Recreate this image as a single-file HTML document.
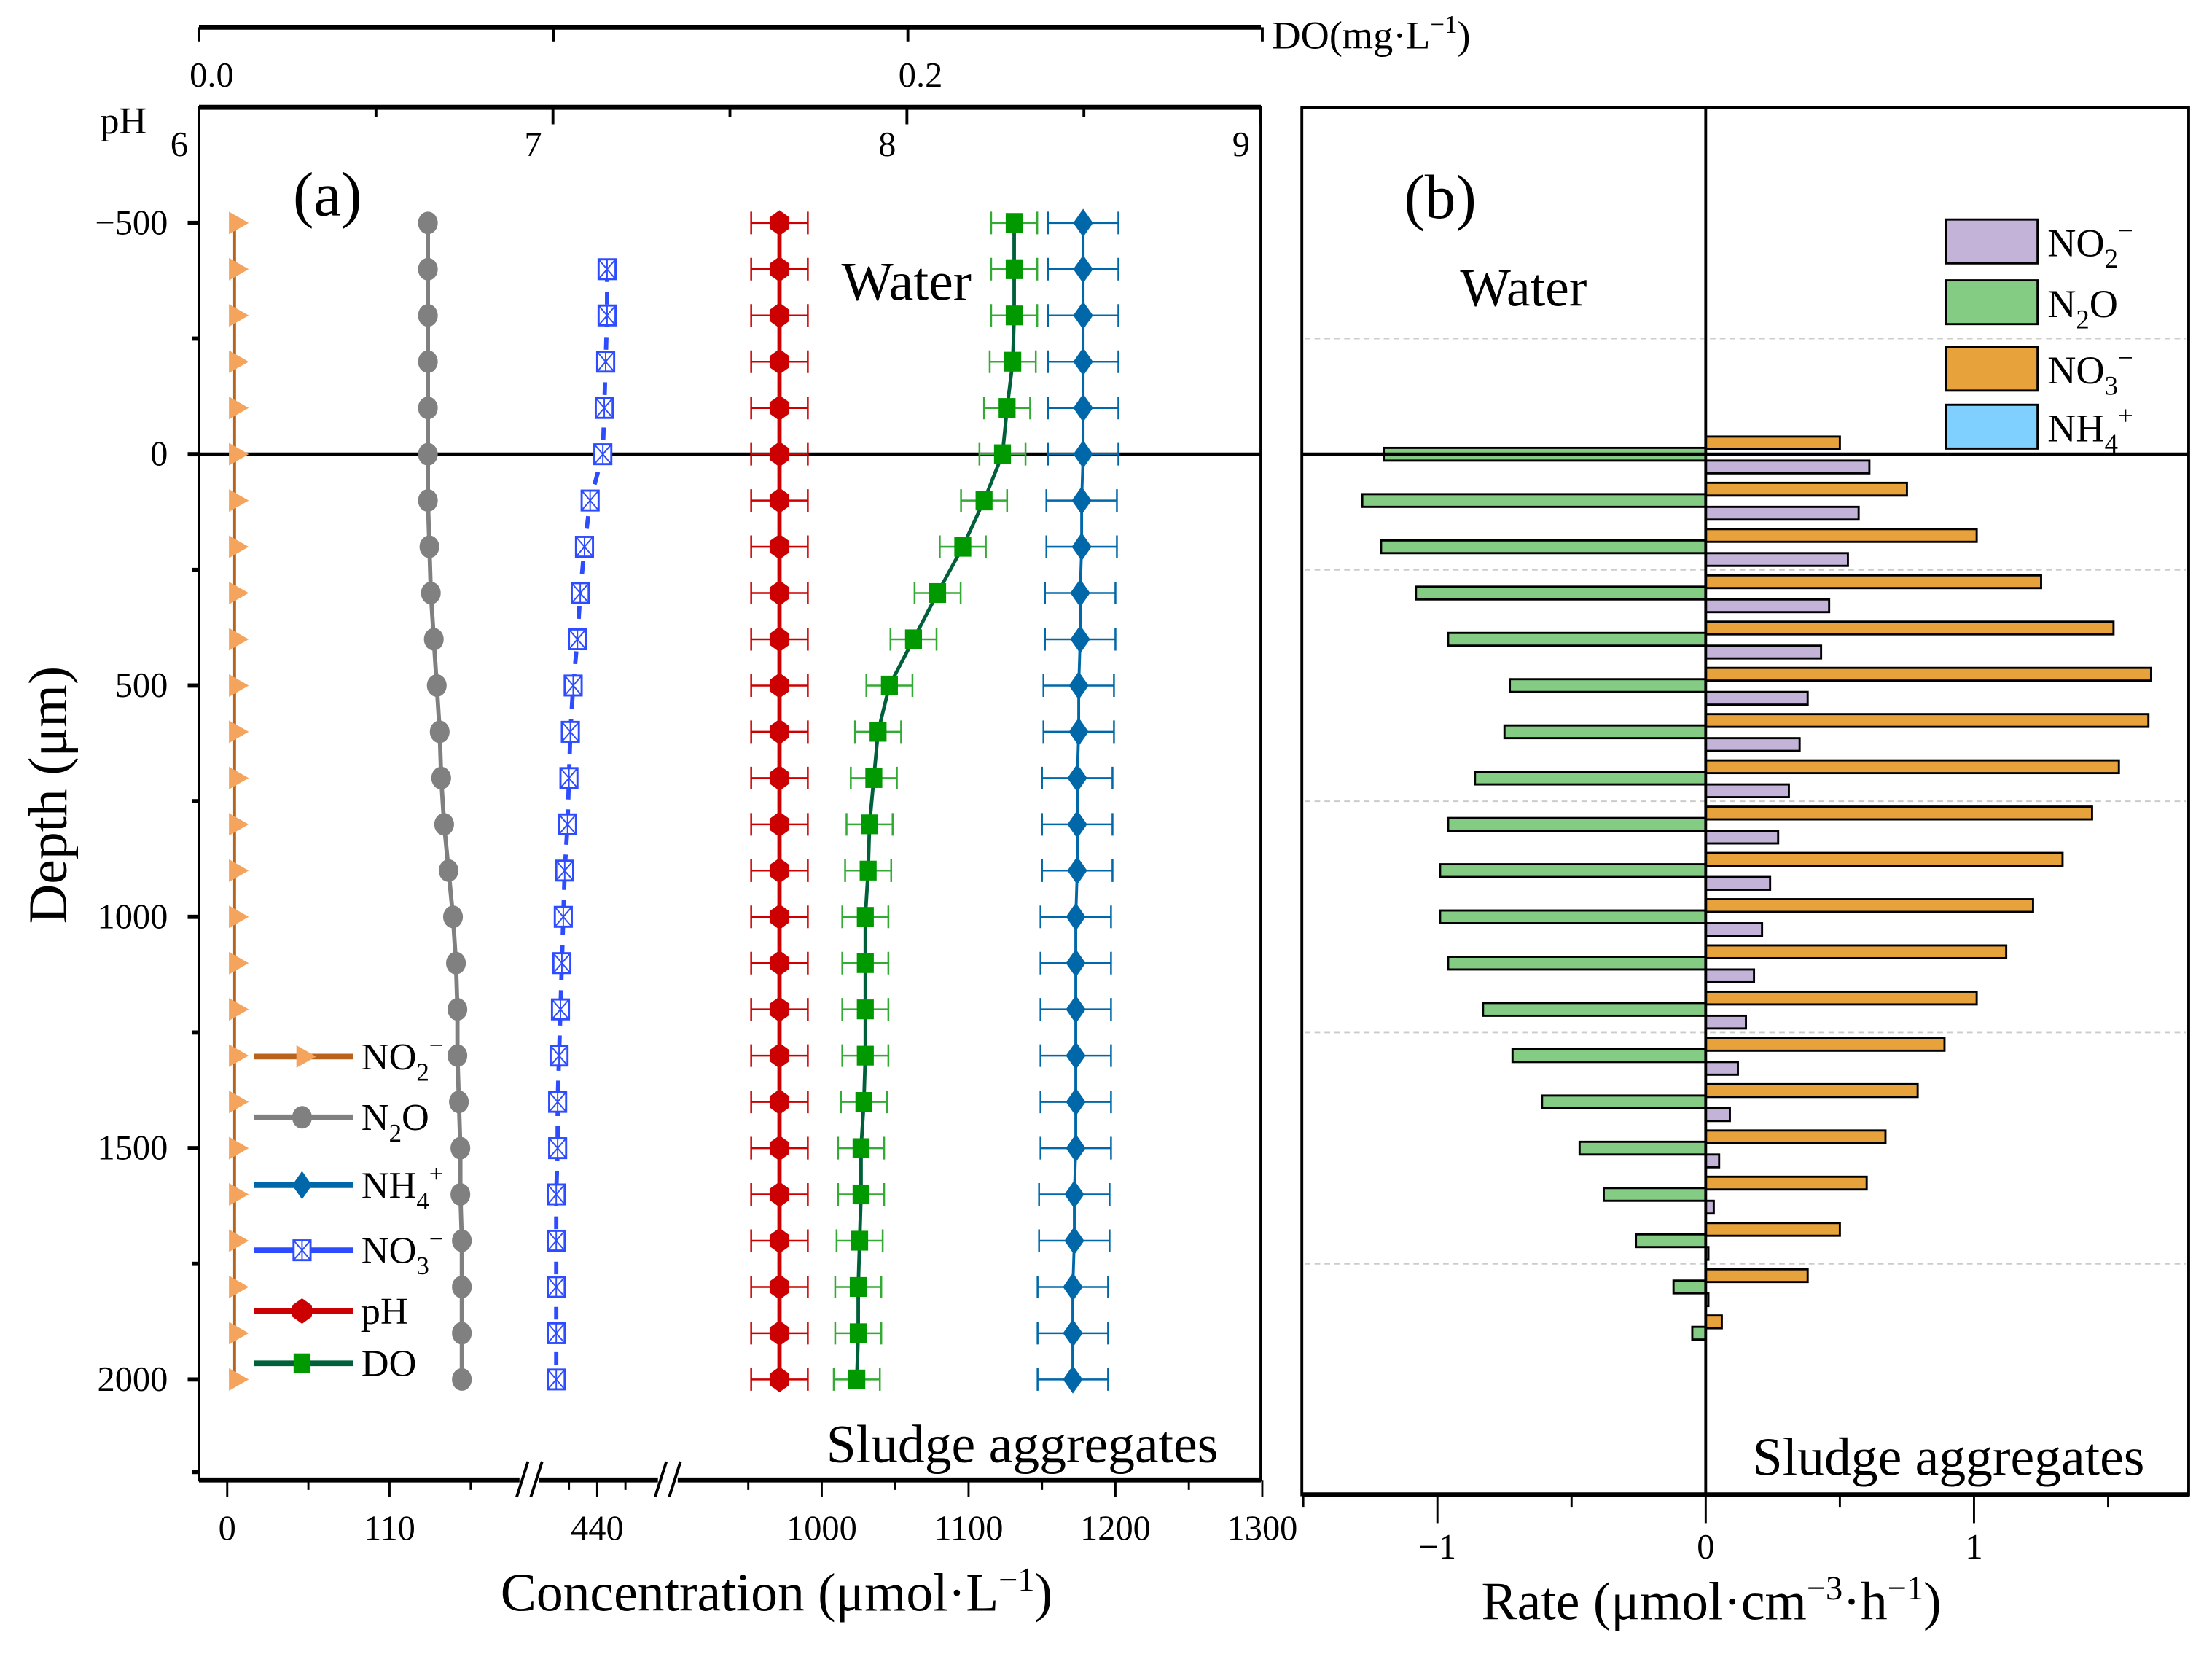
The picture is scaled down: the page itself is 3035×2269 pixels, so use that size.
<!DOCTYPE html>
<html><head><meta charset="utf-8"><style>
html,body{margin:0;padding:0;background:#fff}
svg{display:block}
text{font-family:"Liberation Serif",serif;fill:#000}
</style></head><body>
<svg id="chart" width="3035" height="2269" viewBox="0 0 3035 2269" xmlns="http://www.w3.org/2000/svg">
<g transform="scale(1.9455)"><g id="root" transform="matrix(0.9959,0,0,0.99694,-0.1,0.28)"></g></g>
</svg>
<script>
// ---------- Panel (a) data ----------
const depths = [-500,-400,-300,-200,-100,0,100,200,300,400,500,600,700,800,900,1000,1100,1200,1300,1400,1500,1600,1700,1800,1900,2000];
const no2Conc = [5,5,5,5,5,5,5,5,5,5,5,5,5,5,5,5,5,5,5,5,5,5,5,5,5,5];
const n2oConc = [136,136,136,136,136,136,136,137,138,140,142,144,145,147,150,153,155,156,156,157,158,158,159,159,159,159];
const no3Depths = [-400,-300,-200,-100,0,100,200,300,400,500,600,700,800,900,1000,1100,1200,1300,1400,1500,1600,1700,1800,1900,2000];
const no3Conc = [447,447,446,445,444,435,431,428,426,423,421,420,419,417,416,415,414,413,412,412,411,411,411,411,411];
const phVals = [7.64,7.64,7.64,7.64,7.64,7.64,7.64,7.64,7.64,7.64,7.64,7.64,7.64,7.64,7.64,7.64,7.64,7.64,7.64,7.64,7.64,7.64,7.64,7.64,7.64,7.64];
const doVals = [0.230,0.230,0.230,0.2296,0.228,0.2267,0.2215,0.2155,0.2084,0.2016,0.1948,0.1916,0.1904,0.1892,0.1888,0.1880,0.1880,0.1880,0.1880,0.1876,0.1868,0.1868,0.1864,0.1860,0.1860,0.1856];
const nh4Conc = [1178,1178,1178,1178,1178,1178,1177,1177,1176,1176,1175,1175,1174,1174,1174,1173,1173,1173,1173,1173,1173,1172,1172,1171,1171,1171];
const phErr = 0.08, doErr = 0.0065, nh4Err = 24;
const concTicks = [0,110,440,1000,1100,1200,1300];
const depthTicks = [-500,0,500,1000,1500,2000];
const phTicks = [6,7,8,9];
// ---------- Panel (b) data ----------
const rateDepths = [0,100,200,300,400,500,600,700,800,900,1000,1100,1200,1300,1400,1500,1600,1700,1800,1900];
const rateNO3 = [0.50,0.75,1.01,1.25,1.52,1.66,1.65,1.54,1.44,1.33,1.22,1.12,1.01,0.89,0.79,0.67,0.60,0.50,0.38,0.06];
const rateN2O = [-1.20,-1.28,-1.21,-1.08,-0.96,-0.73,-0.75,-0.86,-0.96,-0.99,-0.99,-0.96,-0.83,-0.72,-0.61,-0.47,-0.38,-0.26,-0.12,-0.05];
const rateNO2 = [0.61,0.57,0.53,0.46,0.43,0.38,0.35,0.31,0.27,0.24,0.21,0.18,0.15,0.12,0.09,0.05,0.03,0.01,0.01,0.0];
const rateNH4 = [0,0,0,0,0,0,0,0,0,0,0,0,0,0,0,0,0,0,0,0];
const rateTicks = [-1,0,1];

const NS="http://www.w3.org/2000/svg";
const root=document.getElementById('root');
function el(tag,attrs,parent){const e=document.createElementNS(NS,tag);for(const k in attrs)e.setAttribute(k,attrs[k]);(parent||root).appendChild(e);return e;}
function txt(x,y,s,size,parent,anchor){const t=el('text',{x:x,y:y,'font-size':size,'text-anchor':anchor||'middle'},parent);t.innerHTML=s;return t;}

const yD = d => 321 + d*0.3272;
function xC(v){ if(v<=250) return 161+v*1.045; if(v<700) return 423+(v-440); return 582+(v-1000)*1.04; }
const xPH = v => 141 + (v-6)*250.67;
const xDO = v => 141 + v*2510;
const xR = v => 1208 + v*190;
const TOP=75.6, BOTA=1046.5, BOTB=1057;

// ---------- Panel (a) frame ----------
const ga=el('g',{});


el('rect',{x:141,y:TOP,width:752,height:BOTA-TOP,fill:'none',stroke:'#000','stroke-width':2},ga);
el('line',{x1:141,y1:TOP,x2:893,y2:TOP,stroke:'#000','stroke-width':3.5},ga);
const gdo=el('g',{},ga);


el('line',{x1:141,y1:19,x2:893,y2:19,stroke:'#000','stroke-width':3.5},gdo);
[0,0.1,0.2,0.3].forEach(v=>el('line',{x1:xDO(v),y1:19,x2:xDO(v),y2:29,stroke:'#000','stroke-width':2},gdo));
txt(150,61,'0.0',25,gdo); txt(652,61,'0.2',25,gdo);
txt(901,34,'DO(mg·L<tspan dy="-11" font-size="18">−1</tspan><tspan dy="11">)</tspan>',28,gdo,'start');
const gph=el('g',{},ga);


phTicks.forEach(v=>{el('line',{x1:xPH(v),y1:TOP,x2:xPH(v),y2:TOP+12,stroke:'#000','stroke-width':2},gph);txt(xPH(v)-14,110,String(v),25,gph);});
[6.5,7.5,8.5].forEach(v=>el('line',{x1:xPH(v),y1:TOP,x2:xPH(v),y2:TOP+7,stroke:'#000','stroke-width':2},gph));
txt(71,94,'pH',27,gph,'start');
const gy=el('g',{},ga);


depthTicks.forEach(d=>{el('line',{x1:133,y1:yD(d),x2:141,y2:yD(d),stroke:'#000','stroke-width':3},gy);txt(119,yD(d)+8,(d<0?'−'+(-d):String(d)),25,gy,'end');});
[-250,250,750,1250,1750,2200].forEach(d=>el('line',{x1:136,y1:yD(d),x2:141,y2:yD(d),stroke:'#000','stroke-width':3},gy));
const yt=txt(0,0,'Depth (μm)',39,gy); yt.setAttribute('transform','translate(47,562) rotate(-90)');
const gx=el('g',{},ga);


el('line',{x1:141,y1:BOTA,x2:893,y2:BOTA,stroke:'#000','stroke-width':3.5},gx);
concTicks.forEach(v=>{el('line',{x1:xC(v),y1:BOTA,x2:xC(v),y2:BOTA+12,stroke:'#000','stroke-width':1.5},gx);txt(xC(v),1089,String(v),25,gx);});
[55,165,420,460,950,1050,1150,1250].forEach(v=>el('line',{x1:xC(v),y1:BOTA,x2:xC(v),y2:BOTA+7,stroke:'#000','stroke-width':1.5},gx));
[375,473].forEach(bx=>{el('rect',{x:bx-7,y:BOTA-5,width:14,height:10,fill:'#fff'},gx);
 el('line',{x1:bx-9,y1:BOTA+12,x2:bx-1,y2:BOTA-13,stroke:'#000','stroke-width':2},gx);
 el('line',{x1:bx+1,y1:BOTA+12,x2:bx+9,y2:BOTA-13,stroke:'#000','stroke-width':2},gx);});
txt(550,1139,'Concentration (μmol·L<tspan dy="-14" font-size="24">−1</tspan><tspan dy="14">)</tspan>',38,gx);
el('line',{x1:141,y1:321,x2:893,y2:321,stroke:'#000','stroke-width':2.5},ga);

function mk(type,x,y,g){
 if(type==='tri') return el('polygon',{points:`${x-4},${y-8} ${x+10},${y} ${x-4},${y+8}`,fill:'#f5a45d'},g);
 if(type==='circ') return el('ellipse',{cx:x,cy:y,rx:7,ry:8,fill:'#808080'},g);
 if(type==='dia') return el('polygon',{points:`${x},${y-10} ${x+7},${y} ${x},${y+10} ${x-7},${y}`,fill:'#0068a8'},g);
 if(type==='box'){const gg=el('g',{},g);el('rect',{x:x-6,y:y-7,width:12,height:14,fill:'#fff',stroke:'#2e4cff','stroke-width':1.5},gg);
   el('path',{d:`M${x-6},${y-7}L${x+6},${y+7}M${x+6},${y-7}L${x-6},${y+7}M${x},${y-7}L${x},${y+7}`,stroke:'#2e4cff','stroke-width':1},gg);return gg;}
 if(type==='hex') return el('polygon',{points:`${x},${y-9} ${x+7},${y-4} ${x+7},${y+4} ${x},${y+9} ${x-7},${y+4} ${x-7},${y-4}`,fill:'#cc0000'},g);
 if(type==='sq') return el('rect',{x:x-6,y:y-7,width:12,height:14,fill:'#009900'},g);
}
function errbar(x1,x2,y,col,g){el('path',{d:`M${x1},${y}H${x2}M${x1},${y-8}V${y+8}M${x2},${y-8}V${y+8}`,stroke:col,'stroke-width':1.3,fill:'none'},g);}
function series(name,xs,ds,lineCol,lw,dash,type,errs,errCol){
 const g=el('g',{},ga);
 
 
 const pts=xs.map((x,i)=>x+','+yD(ds[i])).join(' ');
 const pl=el('polyline',{points:pts,fill:'none',stroke:lineCol,'stroke-width':lw},g);
 if(dash) pl.setAttribute('stroke-dasharray',dash);
 xs.forEach((x,i)=>{ if(errs) errbar(errs[i][0],errs[i][1],yD(ds[i]),errCol,g);
   const m=mk(type,x,yD(ds[i]),g);
   
   });
}
series('no2-series',no2Conc.map(xC),depths,'#b8621b',2,null,'tri');
series('n2o-series',n2oConc.map(xC),depths,'#808080',3,null,'circ');
series('no3-series',no3Conc.map(xC),no3Depths,'#2e4cff',3,'9,7','box');
series('ph-series',phVals.map(xPH),depths,'#cc0000',3,null,'hex',phVals.map(v=>[xPH(v-phErr),xPH(v+phErr)]),'#cc0000');
series('do-series',doVals.map(xDO),depths,'#00603a',2.5,null,'sq',doVals.map(v=>[xDO(v-doErr),xDO(v+doErr)]),'#33aa33');
series('nh4-series',nh4Conc.map(xC),depths,'#0068a8',2,null,'dia',nh4Conc.map(v=>[xC(v-nh4Err),xC(v+nh4Err)]),'#0068a8');

const la=el('g',{},ga);


const legA=[['tri','#b8621b','NO<tspan dy="8" font-size="18">2</tspan><tspan dy="-19" font-size="18">−</tspan>',747],
 ['circ','#808080','N<tspan dy="8" font-size="18">2</tspan><tspan dy="-8">O</tspan>',790],
 ['dia','#0068a8','NH<tspan dy="8" font-size="18">4</tspan><tspan dy="-19" font-size="18">+</tspan>',838],
 ['box','#2e4cff','NO<tspan dy="8" font-size="18">3</tspan><tspan dy="-19" font-size="18">−</tspan>',884],
 ['hex','#cc0000','pH',927],['sq','#00603a','DO',964]];
legA.forEach(([t,c,l,y])=>{const g=el('g',{},la);
 
 
 el('line',{x1:180,y1:y,x2:250,y2:y,stroke:c,'stroke-width':4},g);mk(t,214,y,g);txt(256,y+9,l,27,g,'start');});
txt(232,152,'(a)',44,ga);
txt(642,212,'Water',39,ga);
txt(724,1034,'Sludge aggregates',38,ga);

// ---------- Panel (b) ----------
const gb=el('g',{});


[-250,250,750,1250,1750].forEach(d=>el('line',{x1:924,y1:yD(d),x2:1548,y2:yD(d),stroke:'#ccc','stroke-width':1,'stroke-dasharray':'4,3'},gb));
const bh=9;
function bars(name,vals,off,fill){
 const g=el('g',{},gb);
 
 
 vals.forEach((v,i)=>{const y=yD(rateDepths[i])+off;const x0=xR(0),x1=xR(v);
  const r=el('rect',{x:Math.min(x0,x1),y:y-bh/2,width:Math.abs(x1-x0),height:bh,fill:fill,stroke:'#000','stroke-width':1.5},g);
  
  });
}
bars('no3-rate',rateNO3,-8,'#e7a23b');
bars('n2o-rate',rateN2O,0,'#84cc84');
bars('no2-rate',rateNO2,9,'#c3b3d9');
bars('nh4-rate',rateNH4,0,'#80d0ff');
el('line',{x1:1208,y1:TOP,x2:1208,y2:BOTB,stroke:'#000','stroke-width':2},gb);
el('line',{x1:922,y1:321,x2:1550,y2:321,stroke:'#000','stroke-width':2.5},gb);
el('rect',{x:922,y:TOP,width:628,height:BOTB-TOP,fill:'none',stroke:'#000','stroke-width':2},gb);
el('line',{x1:922,y1:BOTB,x2:1550,y2:BOTB,stroke:'#000','stroke-width':3.5},gb);
const gbx=el('g',{},gb);


[-1.5,-0.5,0.5,1.5].forEach(v=>el('line',{x1:xR(v),y1:BOTB,x2:xR(v),y2:BOTB+9,stroke:'#000','stroke-width':1.5},gbx));
rateTicks.forEach(v=>{el('line',{x1:xR(v),y1:BOTB,x2:xR(v),y2:BOTB+20,stroke:'#000','stroke-width':1.5},gbx);txt(xR(v),1102,v<0?'−'+(-v):String(v),25,gbx);});
txt(1212,1145,'Rate (μmol·cm<tspan dy="-14" font-size="24">−3</tspan><tspan dy="14">·h</tspan><tspan dy="-14" font-size="24">−1</tspan><tspan dy="14">)</tspan>',38,gbx);
const lb=el('g',{},gb);


[['#c3b3d9','NO<tspan dy="8" font-size="19">2</tspan><tspan dy="-20" font-size="19">−</tspan>',155],
 ['#84cc84','N<tspan dy="8" font-size="19">2</tspan><tspan dy="-8">O</tspan>',198],
 ['#e7a23b','NO<tspan dy="8" font-size="19">3</tspan><tspan dy="-20" font-size="19">−</tspan>',245],
 ['#80d0ff','NH<tspan dy="8" font-size="19">4</tspan><tspan dy="-20" font-size="19">+</tspan>',286]].forEach(([c,l,y])=>{
 const g=el('g',{},lb);
 
 
 el('rect',{x:1378,y:y,width:65,height:31,fill:c,stroke:'#000','stroke-width':1.5},g);txt(1450,y+26,l,28,g,'start');});
txt(1020,154,'(b)',44,gb);
txt(1079,216,'Water',38,gb);
txt(1380,1043,'Sludge aggregates',38,gb);
</script>
</body></html>
